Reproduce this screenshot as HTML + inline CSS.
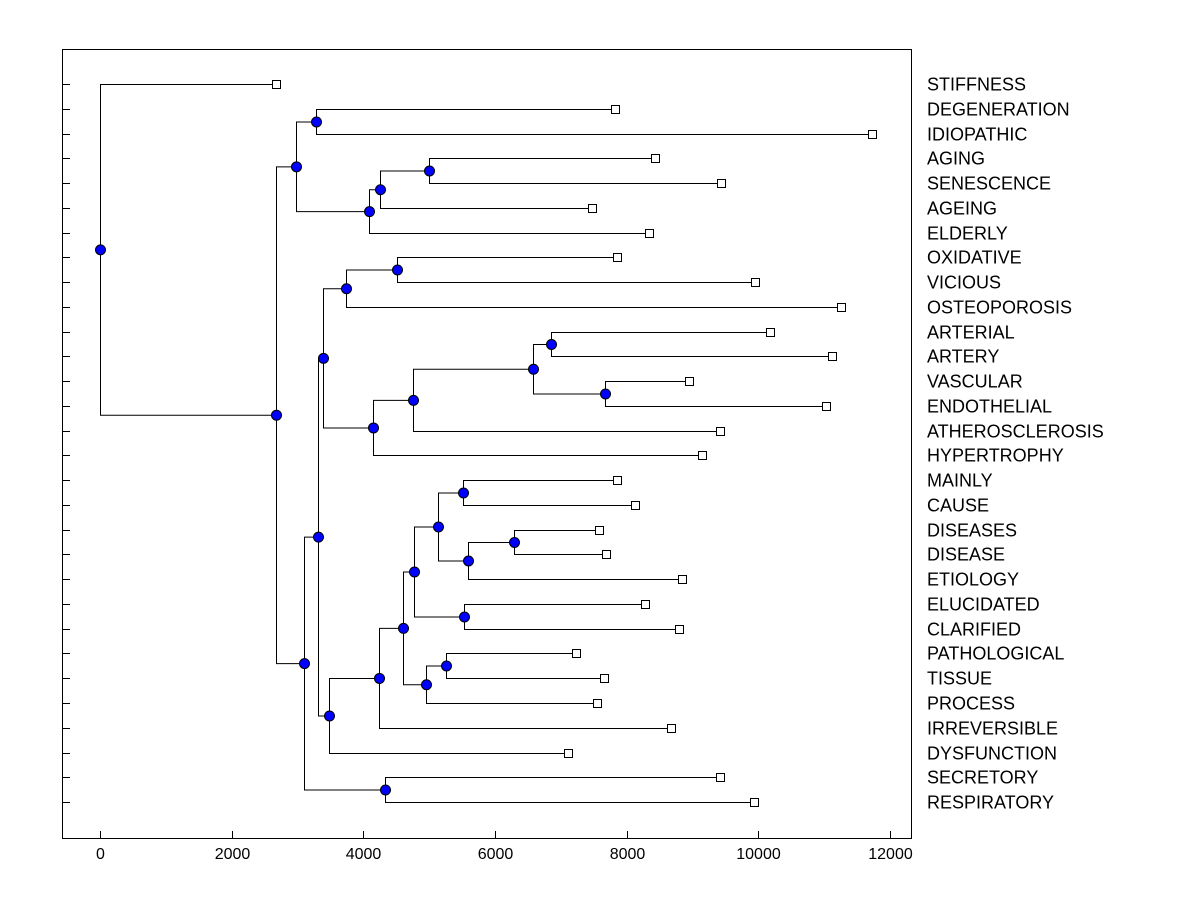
<!DOCTYPE html>
<html><head><meta charset="utf-8"><style>
body{margin:0;background:#fff;}
svg{display:block;font-family:"Liberation Sans",Arial,sans-serif;}
</style></head><body>
<svg id="chart" width="1200" height="900">
<rect x="0" y="0" width="1200" height="900" fill="#fff"/>
<rect x="62.5" y="49.5" width="849" height="789" fill="none" stroke="#000"/>
<g id="g-ticks"></g>
<g id="g-links"></g>
<g id="g-marks"></g>
<g id="g-labels"></g>
</svg>
<script>
const leafNames = ["STIFFNESS","DEGENERATION","IDIOPATHIC","AGING","SENESCENCE","AGEING","ELDERLY","OXIDATIVE","VICIOUS","OSTEOPOROSIS","ARTERIAL","ARTERY","VASCULAR","ENDOTHELIAL","ATHEROSCLEROSIS","HYPERTROPHY","MAINLY","CAUSE","DISEASES","DISEASE","ETIOLOGY","ELUCIDATED","CLARIFIED","PATHOLOGICAL","TISSUE","PROCESS","IRREVERSIBLE","DYSFUNCTION","SECRETORY","RESPIRATORY"];
const leafValues = [2673,7823,11727,8431,9433,7474,8340,7854,9950,11256,10178,11120,8947,11028,9418,9145,7854,8127,7580,7686,8841,8279,8795,7231,7656,7550,8674,7109,9418,9934];
const mergeLeft  = [1,3,31,32,30,7,35,10,12,37,39,40,36,16,18,44,43,21,46,23,49,48,51,52,42,28,54,34,0];
const mergeRight = [2,4,5,6,33,8,9,11,13,38,14,15,41,17,19,20,45,22,47,24,25,50,26,27,53,29,55,56,57];
const mergeHeight = [3281,4998,4253,4086,2977,4512,3737,6851,7671,6577,4755,4147,3387,5514,6289,5590,5134,5529,4770,5256,4952,4603,4238,3479,3312,4329,3099,2673,0];
const xTicks = [0,2000,4000,6000,8000,10000,12000];

const NS="http://www.w3.org/2000/svg";
const xS = v => 100 + v*0.065833;
const yS = i => 84 + i*24.76;
function mk(tag, attrs, parent){const e=document.createElementNS(NS,tag);for(const k in attrs)e.setAttribute(k,attrs[k]);parent.appendChild(e);return e;}
const gT=document.getElementById('g-ticks'),gL=document.getElementById('g-links'),gM=document.getElementById('g-marks'),gLb=document.getElementById('g-labels');

xTicks.forEach(t=>{
  const x=Math.round(xS(t))+0.5;
  const l=mk('line',{x1:x,x2:x,y1:831,y2:838,stroke:'#000'},gT);
  
  
  const tx=mk('text',{x:x,y:859,'text-anchor':'middle','font-size':'16'},gT);
  
  
  tx.textContent=t;
});
const nodeX=[],nodeY=[];
leafNames.forEach((n,i)=>{
  const y=Math.round(yS(i))+0.5;
  nodeX.push(xS(leafValues[i]));nodeY.push(y);
  const l=mk('line',{x1:62,x2:70,y1:y,y2:y,stroke:'#000'},gT);
  
  
  const tx=mk('text',{x:927,y:y+6,'font-size':'18'},gLb);
  
  
  tx.textContent=n;
});
const circles=[];
mergeHeight.forEach((h,k)=>{
  const a=mergeLeft[k],b=mergeRight[k];
  const x=Math.round(xS(h))+0.5;
  const y=(nodeY[a]+nodeY[b])/2;
  const p=mk('path',{d:`M${nodeX[a]},${nodeY[a]}H${x}V${nodeY[b]}H${nodeX[b]}`,fill:'none',stroke:'#000','stroke-width':1},gL);
  
  
  nodeX.push(x);nodeY.push(y);
  circles.push([x,y]);
});
leafValues.forEach((v,i)=>{
  const r=mk('rect',{x:Math.round(nodeX[i])-3.5,y:nodeY[i]-4,width:8,height:8,fill:'#fff',stroke:'#000'},gM);
  
  
});
circles.forEach(([x,y])=>{
  const c=mk('circle',{cx:x,cy:y,r:5,fill:'#0000ff',stroke:'#000'},gM);
  
  
});
</script>
</body></html>
